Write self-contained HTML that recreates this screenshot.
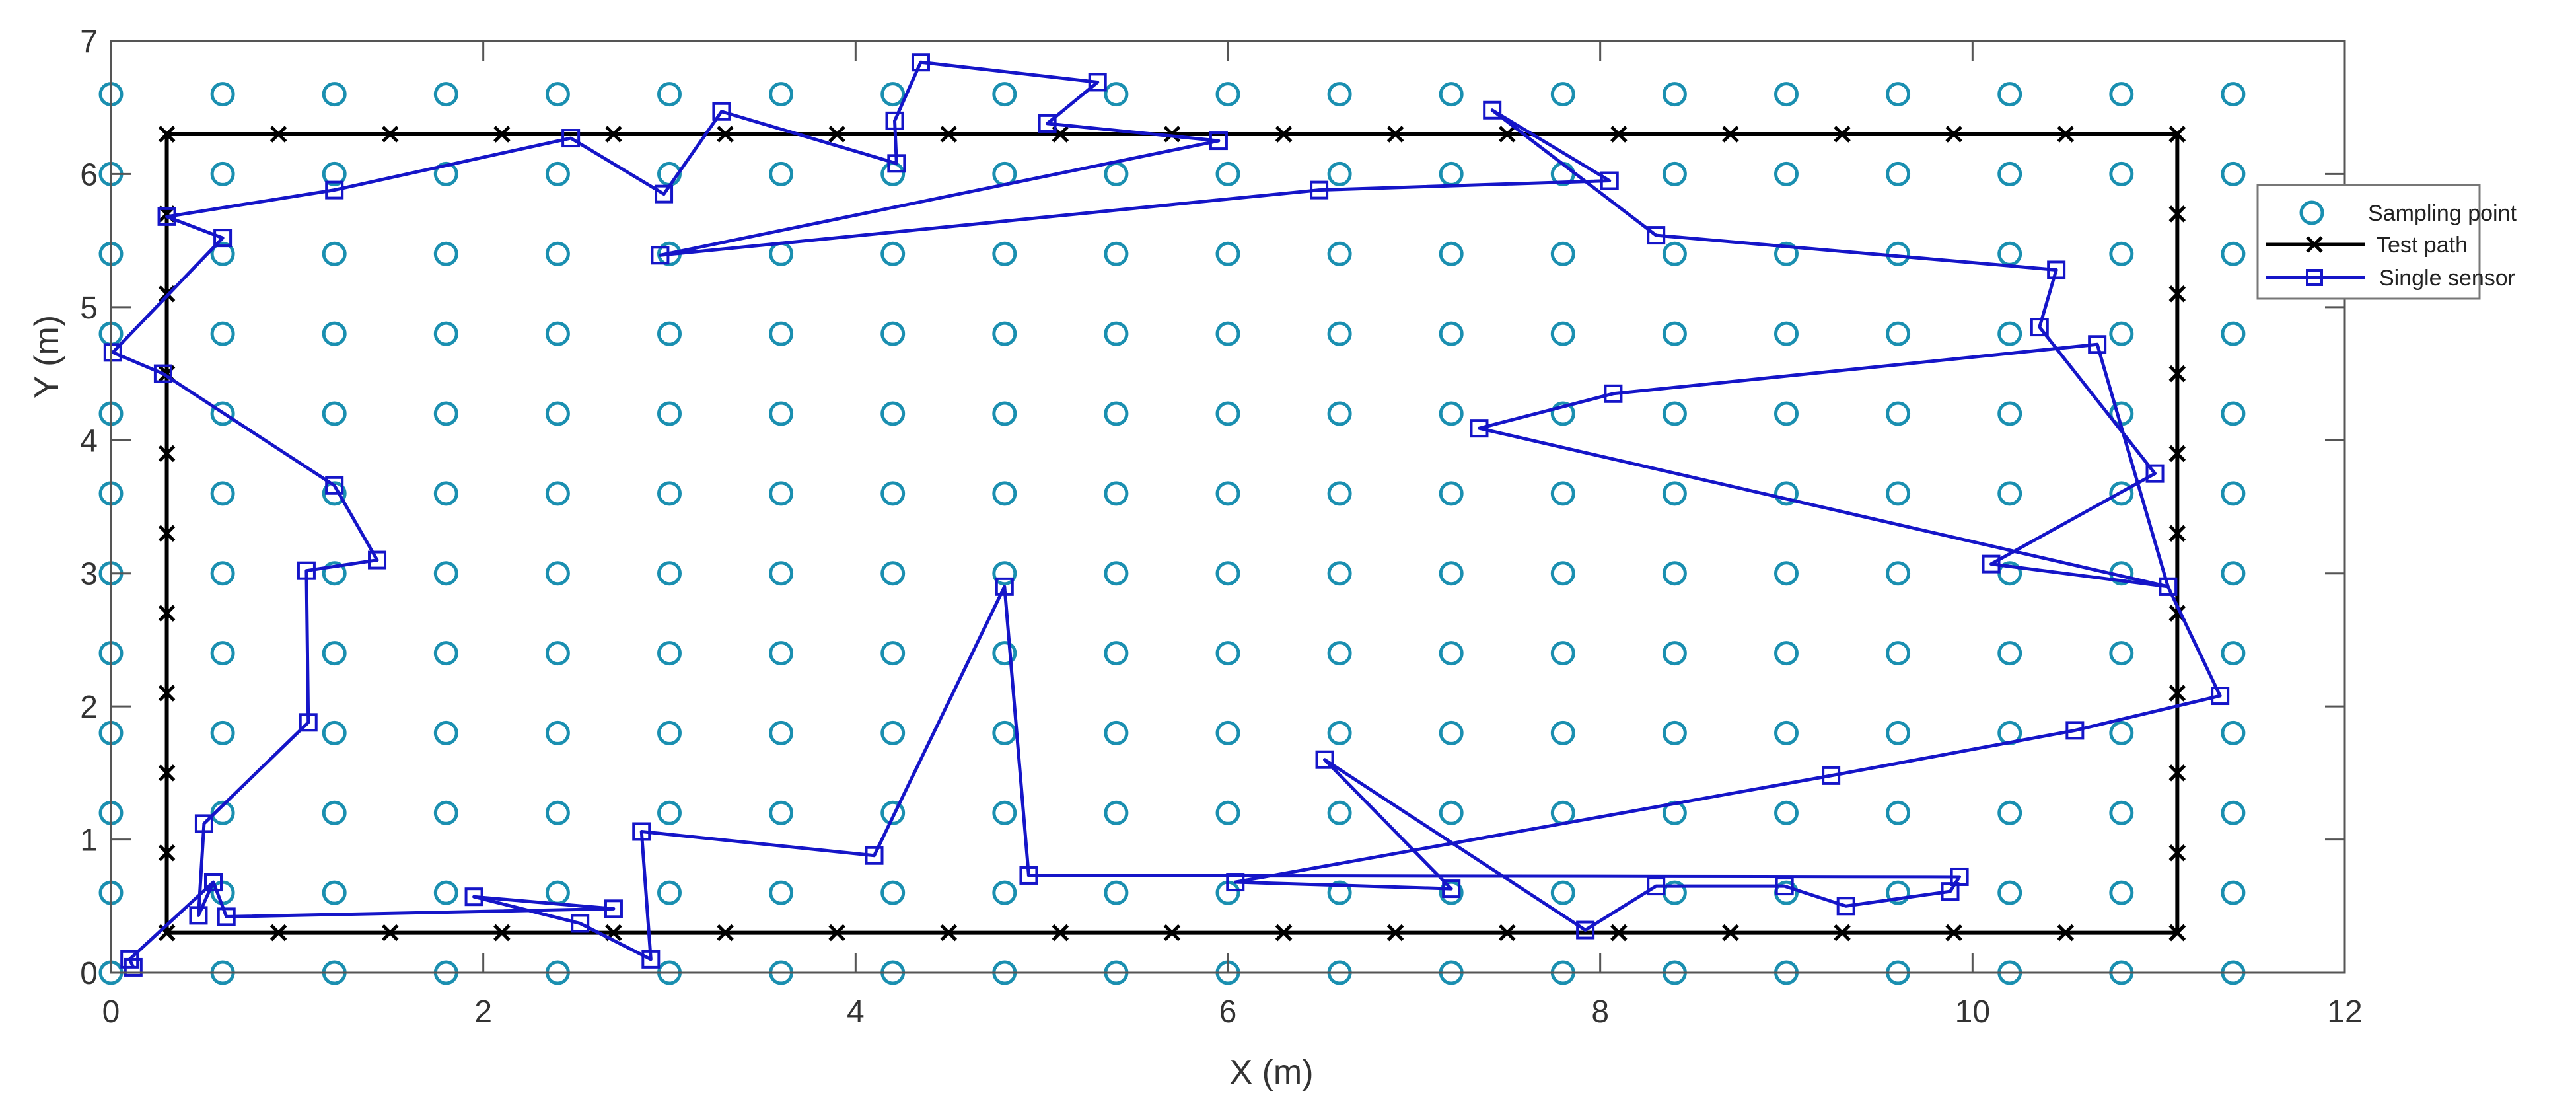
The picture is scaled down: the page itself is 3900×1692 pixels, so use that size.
<!DOCTYPE html>
<html><head><meta charset="utf-8"><style>
html,body{margin:0;padding:0;background:#fff;}
svg{display:block;font-family:"Liberation Sans",sans-serif;}
</style></head><body>
<svg id="chart" width="3900" height="1692" viewBox="0 0 3900 1692" xmlns="http://www.w3.org/2000/svg">
<rect width="3900" height="1692" fill="#fff"/>
<g id="grid-points"></g>
<g id="test-path"></g>
<g id="sensor"></g>
<g id="axes"></g>
<g id="legend">
  <rect x="3418" y="280" width="336" height="172" fill="#fff" stroke="#777" stroke-width="3"/>
  <g>
    <circle cx="3500" cy="322" r="16" fill="none" stroke="#1a8fb0" stroke-width="5"/>
    <text x="3585" y="334" font-size="34" fill="#222">Sampling point</text>
  </g>
  <g>
    <line x1="3430" y1="370" x2="3580" y2="370" stroke="#000" stroke-width="5"/>
    <path d="M3493 359 L3515 381 M3515 359 L3493 381" stroke="#000" stroke-width="5"/>
    <text x="3598" y="382" font-size="34" fill="#222">Test path</text>
  </g>
  <g>
    <line x1="3430" y1="420" x2="3580" y2="420" stroke="#1515c8" stroke-width="5"/>
    <rect x="3493" y="409" width="22" height="22" fill="none" stroke="#1515c8" stroke-width="4"/>
    <text x="3602" y="432" font-size="34" fill="#222">Single sensor</text>
  </g>
</g>
</svg>
<script>
const xTicks = [0, 2, 4, 6, 8, 10, 12];
const yTicks = [0, 1, 2, 3, 4, 5, 6, 7];
const sampleXs = [0,0.6,1.2,1.8,2.4,3,3.6,4.2,4.8,5.4,6,6.6,7.2,7.8,8.4,9,9.6,10.2,10.8,11.4];
const sampleYs = [0,0.6,1.2,1.8,2.4,3,3.6,4.2,4.8,5.4,6,6.6];
const testPathX = [0.3, 11.1, 11.1, 0.3, 0.3];
const testPathY = [0.3, 0.3, 6.3, 6.3, 0.3];
const testMarkXs = [0.3,0.9,1.5,2.1,2.7,3.3,3.9,4.5,5.1,5.7,6.3,6.9,7.5,8.1,8.7,9.3,9.9,10.5,11.1];
const testMarkYs = [0.3,0.9,1.5,2.1,2.7,3.3,3.9,4.5,5.1,5.7,6.3];
const sensorX = [0.12,0.1,0.55,0.62,2.7,1.95,2.52,2.9,2.85,4.1,4.8,4.93,9.93,9.88,9.32,8.99,8.3,7.92,6.52,7.2,6.04,9.24,10.55,11.33,11.05,10.67,8.07,7.35,11.05,10.1,10.98,10.36,10.45,8.3,7.42,8.05,6.49,2.95,5.95,5.03,5.3,4.35,4.21,4.22,3.28,2.97,2.47,1.2,0.3,0.6,0.01,0.28,1.2,1.43,1.05,1.06,0.5,0.47,0.55];
const sensorY = [0.04,0.1,0.68,0.42,0.48,0.57,0.37,0.1,1.06,0.88,2.9,0.73,0.72,0.61,0.5,0.65,0.65,0.32,1.6,0.63,0.68,1.48,1.82,2.08,2.9,4.72,4.35,4.09,2.9,3.07,3.75,4.85,5.28,5.54,6.48,5.95,5.88,5.39,6.25,6.38,6.69,6.84,6.4,6.08,6.47,5.85,6.27,5.88,5.68,5.52,4.66,4.5,3.66,3.1,3.02,1.88,1.12,0.43,0.68];

const NS = 'http://www.w3.org/2000/svg';
const L = 168, R = 3550, T = 62, B = 1472;
const sx = v => L + (v - 0) / 12 * (R - L);
const sy = v => B - (v - 0) / 7 * (B - T);
function mk(tag, attrs, parent) {
  const e = document.createElementNS(NS, tag);
  for (const k in attrs) e.setAttribute(k, attrs[k]);
  parent.appendChild(e);
  return e;
}
const gp = document.getElementById('grid-points');
sampleXs.forEach(x => sampleYs.forEach(y => {
  const c = mk('circle', {cx: sx(x), cy: sy(y), r: 16, fill: 'none', stroke: '#1a8fb0', 'stroke-width': 5}, gp);
  
  
}));
const tp = document.getElementById('test-path');
const tpLine = mk('polyline', {points: testPathX.map((x, i) => sx(x) + ',' + sy(testPathY[i])).join(' '), fill: 'none', stroke: '#000', 'stroke-width': 6}, tp);


const marks = [];
testMarkXs.forEach(x => { marks.push([x, testPathY[0]]); marks.push([x, testPathY[2]]); });
testMarkYs.forEach(y => { marks.push([testPathX[0], y]); marks.push([testPathX[1], y]); });
marks.forEach(([x, y]) => {
  const X = sx(x), Y = sy(y);
  const m = mk('path', {d: `M${X-11} ${Y-11} L${X+11} ${Y+11} M${X+11} ${Y-11} L${X-11} ${Y+11}`, stroke: '#000', 'stroke-width': 5}, tp);
  
  
});
const sg = document.getElementById('sensor');
const sl = mk('polyline', {points: sensorX.map((x, i) => sx(x) + ',' + sy(sensorY[i])).join(' '), fill: 'none', stroke: '#1515c8', 'stroke-width': 5, 'stroke-linejoin': 'round'}, sg);


sensorX.forEach((x, i) => {
  const r = mk('rect', {x: sx(x) - 12, y: sy(sensorY[i]) - 12, width: 24, height: 24, fill: 'none', stroke: '#1515c8', 'stroke-width': 4}, sg);
  
  
});
const ax = document.getElementById('axes');
const box = mk('rect', {x: L, y: T, width: R - L, height: B - T, fill: 'none', stroke: '#555', 'stroke-width': 3}, ax);


xTicks.forEach(v => {
  const X = sx(v);
  mk('line', {x1: X, y1: B, x2: X, y2: B - 30, stroke: '#555', 'stroke-width': 3}, ax);
  mk('line', {x1: X, y1: T, x2: X, y2: T + 30, stroke: '#555', 'stroke-width': 3}, ax);
  const t = mk('text', {x: X, y: B + 75, 'font-size': 48, fill: '#333', 'text-anchor': 'middle'}, ax);
  t.textContent = v;
  
  
});
yTicks.forEach(v => {
  const Y = sy(v);
  mk('line', {x1: L, y1: Y, x2: L + 30, y2: Y, stroke: '#555', 'stroke-width': 3}, ax);
  mk('line', {x1: R, y1: Y, x2: R - 30, y2: Y, stroke: '#555', 'stroke-width': 3}, ax);
  const t = mk('text', {x: L - 20, y: Y + 17, 'font-size': 48, fill: '#333', 'text-anchor': 'end'}, ax);
  t.textContent = v;
  
  
});
const xt = mk('text', {x: 1925, y: 1640, 'font-size': 52, fill: '#333', 'text-anchor': 'middle'}, ax);
xt.textContent = 'X (m)';


const yt = mk('text', {x: 0, y: 0, 'font-size': 52, fill: '#333', 'text-anchor': 'middle', transform: 'translate(88,540) rotate(-90)'}, ax);
yt.textContent = 'Y (m)';


</script>
</body></html>
